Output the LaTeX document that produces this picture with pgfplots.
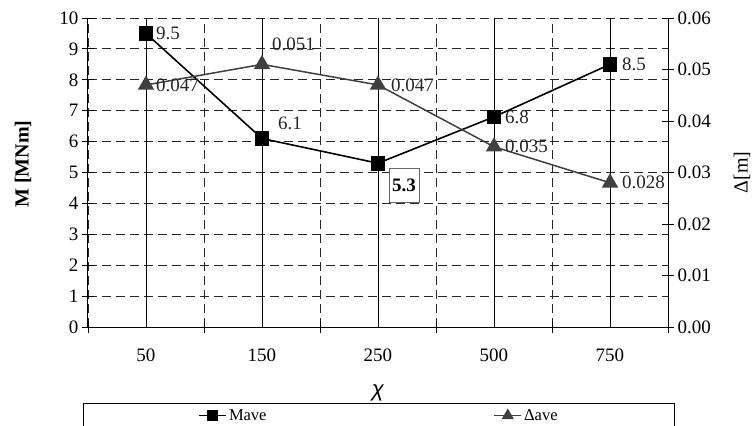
\documentclass[border=0pt]{standalone}
\usepackage{pgfplots}
\pgfplotsset{compat=1.18}
\usepackage{pgfplotstable}
\usepackage{fontspec}
\setmainfont{Liberation Serif}
\setsansfont{Liberation Sans}
\definecolor{dgray}{HTML}{404040}

\pgfplotstableread{
x y
0 9.5
1 6.1
2 5.3
3 6.8
4 8.5
}\Mtab

\pgfplotstableread{
x y lab dx dy
0 9.5 9.5 10 0
1 6.1 6.1 16 15
3 6.8 6.8 11 0
4 8.5 8.5 12 0
}\Mlab

\pgfplotstableread{
x y lab dx dy
0 0.047 0.047 10 0
1 0.051 0.051 10 20
2 0.047 0.047 13 0
3 0.035 0.035 11 0
4 0.028 0.028 12 0
}\Dtab

\pgfplotsset{
  common/.style={
    at={(88pt,99pt)}, anchor=south west,
    scale only axis, width=580pt, height=309pt,
    xmin=-0.5, xmax=4.5,
    tick align=center, major tick length=12pt, minor tick length=12pt,
    every tick/.append style={black, line width=0.8pt},
    axis line style={black, line width=1pt},
    tick label style={font=\fontsize{19}{22}\selectfont},
    /pgf/number format/assume math mode=true,
    label style={font=\fontsize{20}{24}\selectfont},
    clip=false,
  },
  lbl/.style={
    nodes near coords, point meta=explicit symbolic,
    nodes near coords align={horizontal},
    visualization depends on={\thisrow{dx}\as\dx},
    visualization depends on={\thisrow{dy}\as\dy},
    every node near coord/.append style={anchor=west, xshift=\dx pt, yshift=\dy pt,
      inner sep=0pt, font=\fontsize{19}{22}\selectfont, text=black!85},
  },
}

\begin{document}
\begin{tikzpicture}
\path[use as bounding box] (0,0) rectangle (753pt,426pt);
\clip (0,0) rectangle (753pt,426pt);

\begin{axis}[common,
  ymin=0, ymax=10,
  axis x line*=bottom, axis y line*=left,
  xtick={-0.5,0.5,...,4.5}, xticklabels={},
  extra x ticks={0,1,2,3,4},
  extra x tick labels={50,150,250,500,750},
  extra x tick style={xmajorgrids=false, major tick length=0pt,
    xticklabel style={yshift=-18pt}},
  ytick={0,...,10},
  xmajorgrids, ymajorgrids,
  grid style={black!85, line width=0.9pt, dash pattern=on 9pt off 5pt},
  xlabel={\sffamily\itshape\fontsize{22}{26}\selectfont χ},
  xlabel style={at={(axis description cs:0.5,0)}, anchor=center, yshift=-66pt},
  ylabel={\bfseries M [MNm]},
  ylabel style={at={(axis description cs:-0.112,0.527)}, anchor=center},
]
\addplot[black, line width=1.6pt, mark=square*, mark size=6.5pt, mark options={solid}]
  table[x=x,y=y] {\Mtab};
\addplot[draw=none, mark=none, lbl] table[x=x,y=y,meta=lab] {\Mlab};
\addplot[draw=none, mark=none, nodes near coords, point meta=explicit symbolic,
  every node near coord/.append style={anchor=center, xshift=26pt, yshift=-22pt,
    draw=black!60, fill=white, line width=0.8pt, minimum width=30pt, minimum height=34pt,
    inner sep=0pt, font=\bfseries\fontsize{19}{22}\selectfont}]
  coordinates {(2,5.3) [5.3]};
\end{axis}

\begin{axis}[common,
  ymin=0, ymax=0.06,
  axis x line*=bottom, axis y line*=right,
  xtick={0,...,4}, xticklabels={,,,,},
  xmajorticks=false,
  xmajorgrids,
  grid style={black, line width=0.9pt, solid},
  ytick={0,0.01,0.02,0.03,0.04,0.05,0.06},
  scaled y ticks=false,
  yticklabel style={/pgf/number format/fixed, /pgf/number format/fixed zerofill,
    /pgf/number format/precision=2},
  ylabel={Δ[m]},
  ylabel style={at={(axis description cs:1.1276,0.5)}, anchor=center},
  legend columns=2,
  legend image code/.code={\draw[mark repeat=2, mark phase=2, #1,
      every mark/.append style={scale=0.7}]
    plot coordinates {(0pt,0pt) (13.5pt,0pt) (27pt,0pt)};},
  legend style={at={(axis description cs:-0.00862,-0.246)}, anchor=north west,
    draw=black, line width=0.8pt, inner xsep=115pt, inner ysep=4pt,
    font=\fontsize{16.5}{19}\selectfont,
    /tikz/every even column/.append style={column sep=225pt}},
]
\addlegendimage{black, line width=1.6pt, mark=square*, mark size=6.5pt, mark options={solid}}
\addlegendentry{Mave}
\addplot[dgray, line width=1.5pt, mark=triangle*, mark size=8pt, mark options={solid}]
  table[x=x,y=y] {\Dtab};
\addlegendentry{Δave}
\addplot[draw=none, mark=none, lbl, forget plot] table[x=x,y=y,meta=lab] {\Dtab};
\end{axis}
\end{tikzpicture}
\end{document}
